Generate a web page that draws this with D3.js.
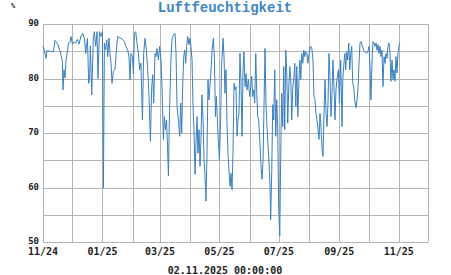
<!DOCTYPE html>
<html>
<head>
<meta charset="utf-8">
<script src="https://cdn.jsdelivr.net/npm/d3@7"></script>
<style>
  body { margin: 0; background: #fff; }
  .grid line { stroke: #b4b4b4; stroke-width: 1; shape-rendering: crispEdges; }
  .lbl { font-family: "DejaVu Sans Mono", monospace; font-weight: bold; fill: #222; }
</style>
</head>
<body>
<div id="chart"></div>
<script>
// Tage seit 01.11.2024 und relative Luftfeuchtigkeit (%)
const startDate = new Date(2024, 10, 1);
const endDate = new Date(2025, 11, 1);
const days = [0,1.4,3.1,4.1,10.7,12.3,15.1,17.4,18.5,19.9,20.5,21.5,22.6,23.6,25.0,26.1,27.7,28.7,30.2,31.8,
  33.5,35.3,36.9,39.0,40.7,42.5,43.8,45.6,46.9,47.9,48.6,50.0,51.7,52.7,54.1,55.4,56.4,57.9,59.5,60.9,
  62.0,63.0,64.3,65.4,66.4,67.7,68.7,69.8,70.8,72.2,73.9,75.3,76.6,79.0,81.5,83.5,84.9,86.9,88.2,89.3,
  90.3,91.7,92.8,93.8,95.1,96.4,97.9,99.2,100.5,102.0,103.3,104.7,106.1,107.4,108.8,110.2,111.5,112.6,113.6,114.9,
  115.9,117.0,118.4,119.7,121.1,122.1,123.5,124.6,125.6,126.7,127.7,128.7,129.3,130.3,131.3,132.4,134.1,135.4,136.5,137.5,
  138.9,140.3,141.3,142.3,143.3,144.4,145.4,146.4,147.4,148.5,149.8,150.8,151.8,152.9,153.9,154.9,156.0,157.0,158.0,159.0,
  160.1,161.1,162.1,163.1,164.2,165.2,166.2,167.2,168.3,169.3,170.3,171.3,172.4,173.4,174.8,175.9,176.9,177.9,178.9,180.0,
  181.0,182.2,183.2,184.7,185.7,186.7,187.8,188.8,189.8,190.8,191.9,192.9,193.9,194.9,196.0,197.0,198.0,199.1,200.1,201.1,
  202.1,203.1,204.2,205.2,206.2,207.3,208.3,209.3,210.7,212.1,213.1,214.1,215.2,216.2,217.2,218.3,219.3,220.3,221.3,222.4,
  223.7,224.7,225.8,226.8,227.8,228.8,229.8,230.9,231.9,232.9,233.6,234.7,235.7,236.7,237.8,238.8,239.8,240.8,241.8,242.9,
  243.9,244.9,246.0,247.0,248.0,249.1,250.1,251.1,252.2,253.2,254.2,255.2,256.3,257.3,258.3,259.4,260.4,261.4,262.4,263.5,
  264.5,265.5,266.6,267.6,268.6,269.6,270.7,271.7,273.0,274.4,275.7,277.0,278.0,279.1,280.1,281.1,282.2,283.2,284.2,285.2,
  286.3,287.3,288.3,289.3,290.4,291.4,292.4,293.4,294.5,295.5,296.5,297.5,298.6,299.6,300.6,301.6,303.1,304.1,305.4,306.8,
  307.6,308.5,309.6,310.6,311.6,312.6,313.7,314.7,315.7,316.7,317.8,318.8,319.8,321.1,322.2,323.2,324.2,325.2,326.3,327.7,
  329.0,330.4,331.8,333.2,334.5,335.6,336.5,337.6,338.6,339.6,340.6,341.7,342.7,343.7,344.7,345.8,346.8,347.8,348.8,349.9,
  350.9,351.9,352.9,354.0,355.0,356.0,357.0,358.1,359.1,360.1,361.1,362.2,363.2,364.2,365.2,366.0];
const humidity = [85.9,85.2,83.7,85.1,84.9,87.0,86.3,85.1,84.3,83.1,77.9,81.6,80.1,83.4,84.9,86.5,86.6,87.7,86.3,86.7,
  86.5,87.2,86.3,87.8,88.3,87.4,84.6,87.4,79.1,80.4,86.0,77.0,87.7,88.6,85.9,88.6,80.0,88.6,87.7,88.6,
  59.9,86.5,85.3,87.1,84.0,87.4,84.6,82.8,79.1,81.3,81.7,85.2,87.7,87.4,87.2,86.8,85.9,85.2,84.0,79.8,
  84.6,84.0,80.9,88.3,88.6,86.5,84.6,81.6,82.8,72.4,84.6,87.4,85.2,81.6,76.7,68.5,78.5,80.7,75.5,84.6,
  84.0,85.5,83.4,85.9,83.4,78.5,68.8,73.0,70.6,72.4,67.7,62.1,69.4,77.3,83.4,87.4,88.0,88.3,84.6,74.9,
  72.4,69.4,75.5,70.0,78.5,84.0,85.2,82.8,85.9,87.7,86.2,87.4,85.9,83.4,74.9,70.6,62.4,68.2,73.0,66.3,
  70.6,63.9,68.8,77.0,72.4,65.1,62.1,57.5,66.3,79.8,76.1,78.5,81.6,85.2,87.4,83.4,73.0,76.7,72.4,68.2,
  65.1,72.4,82.2,87.4,84.0,77.3,81.6,71.8,66.3,63.3,60.2,62.6,59.6,66.3,79.1,77.9,78.5,69.4,72.4,73.6,
  84.6,79.8,69.4,81.6,84.9,78.5,80.9,77.9,79.8,76.7,78.5,80.4,76.7,77.9,75.5,84.6,77.3,73.0,72.4,68.8,
  63.9,61.5,65.1,75.5,85.5,75.5,71.2,67.6,64.5,60.2,54.1,63.3,75.2,72.4,81.6,69.4,76.1,71.2,56.6,51.1,
  66.3,77.3,71.2,82.2,70.6,85.2,81.0,71.8,78.5,82.2,79.8,72.4,78.5,79.8,82.8,74.9,82.2,73.0,78.5,83.4,
  79.8,84.6,82.8,85.2,84.0,84.9,84.6,82.8,84.6,85.9,85.7,83.4,76.7,76.1,73.6,72.4,70.6,68.8,73.6,71.2,
  67.0,65.7,73.6,79.8,73.6,71.2,75.5,84.6,79.8,73.0,77.3,83.4,78.5,72.4,77.9,79.8,81.6,75.5,83.4,71.2,
  79.8,82.2,84.6,81.6,84.9,83.4,86.5,81.6,84.6,85.9,79.1,78.5,76.1,74.6,76.1,78.5,82.8,86.5,86.8,85.9,
  85.2,84.9,84.6,84.9,85.9,81.6,76.1,83.4,86.8,86.5,85.9,86.5,85.2,86.2,84.6,85.9,84.0,85.2,78.5,84.0,
  82.8,84.6,83.7,85.9,86.5,84.6,79.5,83.4,79.8,81.6,79.5,84.0,81.0,84.6,85.9,86.5];
const yTicks = [50, 60, 70, 80, 90];
const title = 'Luftfeuchtigkeit';
const unit = '%';
const stamp = '02.11.2025 00:00:00';

const width = 451, height = 275;
const svg = d3.select('#chart').append('svg')
  .attr('width', width).attr('height', height);

const x = d3.scaleTime().domain([startDate, endDate]).range([43, 428]);
const y = d3.scaleLinear().domain([50, 90]).range([242, 24]);

const data = days.map((d, i) => ({ t: d3.timeHour.offset(startDate, Math.round(d * 24)), v: humidity[i] }));

// Gitter: jeden Monat senkrecht, alle 5 % waagerecht
const grid = svg.append('g').attr('class', 'grid');
grid.selectAll('.v').data(d3.timeMonth.range(startDate, d3.timeDay.offset(endDate, 1)))
  .enter().append('line')
  .attr('x1', d => Math.round(x(d)) + 0.5).attr('x2', d => Math.round(x(d)) + 0.5)
  .attr('y1', y(90)).attr('y2', y(50));
grid.selectAll('.h').data(d3.range(50, 91, 5))
  .enter().append('line')
  .attr('x1', x(startDate)).attr('x2', x(endDate))
  .attr('y1', d => Math.round(y(d)) + 0.5).attr('y2', d => Math.round(y(d)) + 0.5);

// Achsenbeschriftung
svg.selectAll('.yl').data(yTicks).enter().append('text')
  .attr('class', 'lbl').attr('font-size', 9)
  .attr('x', 39).attr('y', d => y(d) + 2)
  .attr('text-anchor', 'end')
  .text(d => d);

svg.selectAll('.xl').data(d3.timeMonth.every(2).range(startDate, endDate)).enter().append('text')
  .attr('class', 'lbl').attr('font-size', 10)
  .attr('x', d => x(d)).attr('y', 255)
  .attr('text-anchor', 'middle')
  .text(d3.timeFormat('%m/%y'));

svg.append('text').attr('class', 'lbl').attr('font-size', 10)
  .attr('x', 225).attr('y', 274).attr('text-anchor', 'middle')
  .text(stamp);

svg.append('text').attr('class', 'lbl').attr('font-size', 7)
  .attr('x', 11).attr('y', 8)
  .text(unit);

svg.append('text')
  .attr('x', 225).attr('y', 12).attr('text-anchor', 'middle')
  .attr('font-family', '"Liberation Mono", monospace').attr('font-weight', 'bold')
  .attr('font-size', 14).attr('fill', '#3d85c6')
  .text(title);

// Messkurve
const line = d3.line().x(d => x(d.t)).y(d => y(d.v));
svg.append('path').datum(data)
  .attr('fill', 'none').attr('stroke', '#3a7fc0').attr('stroke-width', 1)
  .attr('d', line);
</script>
</body>
</html>
